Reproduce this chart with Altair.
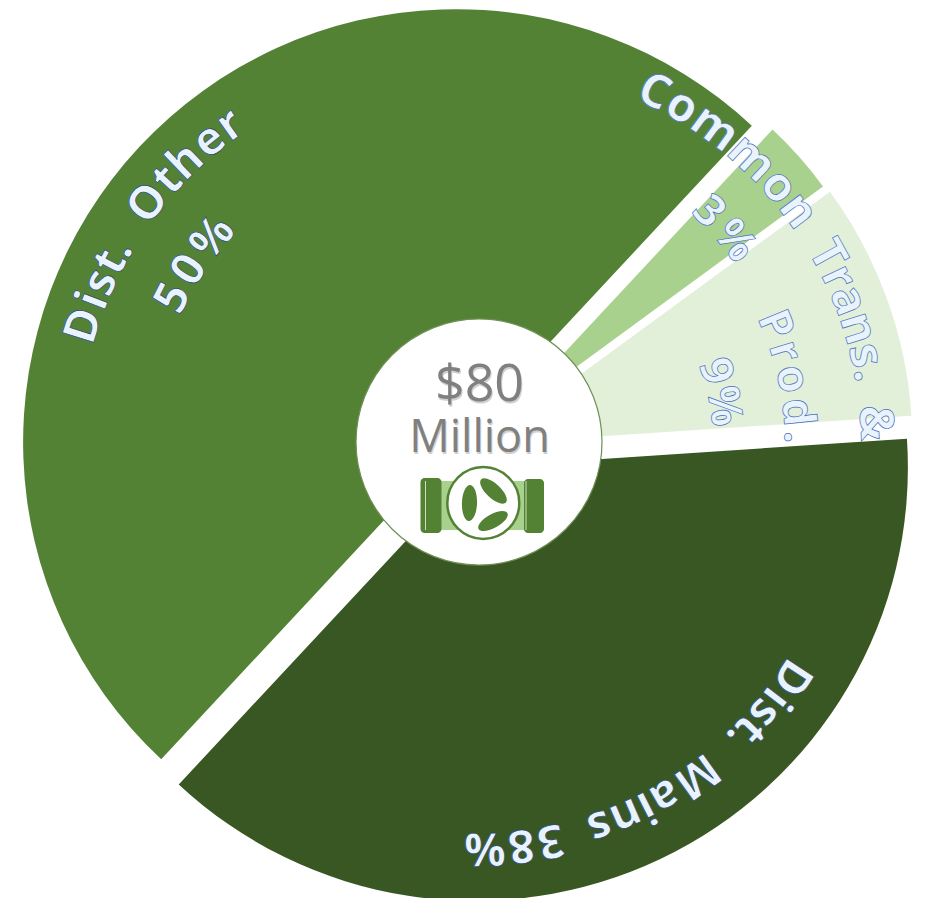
import math
import altair as alt
import pandas as pd

# ---- data ----
SLICE_NAMES = ["Common", "Trans. & Prod.", "Dist. Mains", "Dist. Other"]
SLICE_SHARES = [3, 9, 38, 50]
CENTER_LINES = ["$80", "Million"]

# ---- styling / geometry (page pixels, converted to chart pixels by the 8px margin) ----
M = 8
W, H = 910, 890
START_DEG = 43.0
SLICE_COLORS = ["#a9d18e", "#e2f0d9", "#385723", "#548235"]
SLICE_GEOM = [(497, 425, 404), (485.4, 444, 427), (474.4, 467.4, 433.5), (456.5, 442.5, 433)]
FONT = "Open Sans"
ADV = {"D": .73, "i": .26, "s": .48, "t": .36, ".": .27, " ": .46, "O": .78, "h": .61, "e": .56, "r": .41,
       "5": .57, "0": .57, "%": .83, "C": .63, "o": .6, "m": .93, "n": .61, "T": .56, "a": .56, "&": .73,
       "P": .6, "d": .61, "3": .57, "9": .57, "M": .9, "8": .57}

a0 = math.radians(START_DEG)
theta_scale = alt.Scale(domain=[0, 100], range=[a0, a0 + 2 * math.pi])

cum = [sum(SLICE_SHARES[:i]) for i in range(len(SLICE_SHARES))]
slices = pd.DataFrame({"name": SLICE_NAMES, "t0": cum,
                       "t1": [c + s for c, s in zip(cum, SLICE_SHARES)]})


def slice_layer(i):
    cx, cy, r = SLICE_GEOM[i]
    return alt.Chart(slices.iloc[[i]]).mark_arc(
        x=cx - M, y=cy - M, radius=r, radius2=0, fill=SLICE_COLORS[i]
    ).encode(theta=alt.Theta("t0:Q", scale=theta_scale), theta2="t1:Q")


def arc_text(text, center, start, end, radius, size, fill, stroke, sw=0.7):
    adv = [ADV[c] for c in text]
    pos = []
    run = 0.0
    for a in adv:
        pos.append(run + a / 2)
        run += a
    span = pos[-1] - pos[0]
    rows = []
    for c, p in zip(text, pos):
        if c == " ":
            continue
        deg = start + (end - start) * (p - pos[0]) / span
        rows.append({"ch": c, "t": ((deg - START_DEG) % 360) / 3.6, "r": radius, "rot": deg % 360})
    return alt.Chart(pd.DataFrame(rows)).mark_text(
        x=center[0] - M, y=center[1] - M, font=FONT, fontSize=size, fontWeight="bold", align="center",
        baseline="middle", fill=fill, stroke=stroke, strokeWidth=sw
    ).encode(
        theta=alt.Theta("t:Q", scale=theta_scale),
        radius=alt.Radius("r:Q", scale=None),
        angle=alt.Angle("rot:Q", scale=None),
        text="ch:N",
    )


PALE = "#e9f3fc"
NAVY = "#27457f"
BLUE = "#4a6fc0"

layers = [slice_layer(3), slice_layer(0), slice_layer(1)]
layers += [
    arc_text("Dist. Other", (456.5, 442.5), -72.6, -35.5, 390, 46, PALE, NAVY),
    arc_text("50%", (456.5, 442.5), -63.0, -50.0, 318, 46, PALE, NAVY),
    arc_text("Common Trans. &", (485, 444), 25.7, 86.9, 390, 47, PALE, BLUE),
    arc_text("Prod.", (485, 444), 67.7, 88.7, 313, 44, PALE, BLUE),
    arc_text("9%", (485, 444), 72.5, 81.0, 241, 44, PALE, BLUE),
    arc_text("3%", (497, 425), 44.8, 52.2, 300, 44, PALE, BLUE),
]
layers += [
    slice_layer(2),
    arc_text("Dist. Mains 38%", (474.4, 467.4), 123.5, 178.4, 380, 46, PALE, NAVY),
]

# centre hub
hub = pd.DataFrame({"k": [0]})
layers.append(alt.Chart(hub).mark_circle(
    size=246 ** 2, color="white", opacity=1, stroke="#6f8f55", strokeWidth=1.2
).encode(x=alt.value(479 - M), y=alt.value(442 - M)))

# valve icon
GREEN = "#548235"
LIGHT = "#a9d18e"


def rect(x0, x1, y0, y1, color, rad=0):
    return alt.Chart(hub).mark_rect(fill=color, cornerRadius=rad).encode(
        x=alt.value(x0 - M), x2=alt.value(x1 - M), y=alt.value(y0 - M), y2=alt.value(y1 - M))


layers += [rect(441, 526, 481, 530, LIGHT), rect(420.5, 441.5, 478, 533, GREEN, 4), rect(524, 544, 479, 533, GREEN, 4)]
layers.append(alt.Chart(hub).mark_rule(stroke="#c9e0b8", strokeWidth=1).encode(
    x=alt.value(425.5 - M), y=alt.value(481 - M), y2=alt.value(530 - M)))
layers.append(alt.Chart(hub).mark_rule(stroke="#c9e0b8", strokeWidth=1).encode(
    x=alt.value(526 - M), y=alt.value(481 - M), y2=alt.value(530 - M)))
layers.append(alt.Chart(hub).mark_circle(
    size=72 ** 2, color="white", opacity=1, stroke=GREEN, strokeWidth=2.5
).encode(x=alt.value(483.3 - M), y=alt.value(503 - M)))
ELLIPSE = "M-0.42,0A0.42,1 0 1,1 0.42,0A0.42,1 0 1,1 -0.42,0Z"
for ex, ey, rot, ln in [(469.5, 503, 2, 36), (493.5, 491, -47, 34), (493, 521, 61, 33)]:
    layers.append(alt.Chart(hub).mark_point(
        shape=ELLIPSE, filled=True, fill=GREEN, opacity=1, size=ln ** 2, angle=rot % 360, strokeWidth=0
    ).encode(x=alt.value(ex - M), y=alt.value(ey - M)))

# centre text with a soft shadow
for label, yy, fs in [(CENTER_LINES[0], 385, 52), (CENTER_LINES[1], 438, 45)]:
    d = pd.DataFrame({"label": [label]})
    layers.append(alt.Chart(d).mark_text(
        font=FONT, fontSize=fs, align="center", baseline="middle", fill="#c4c4c4", opacity=0.8, fontWeight=500
    ).encode(x=alt.value(480.5 - M), y=alt.value(yy + 1.5 - M), text="label:N"))
    layers.append(alt.Chart(d).mark_text(
        font=FONT, fontSize=fs, align="center", baseline="middle", fill="#808080", fontWeight=500
    ).encode(x=alt.value(479.5 - M), y=alt.value(yy - M), text="label:N"))

chart = alt.layer(*layers).properties(
    width=W, height=H, padding=0, autosize=alt.AutoSizeParams(type="none"), background="white"
).configure_view(stroke=None)

chart.save("out.html", embed_options={"renderer": "svg", "actions": False})
